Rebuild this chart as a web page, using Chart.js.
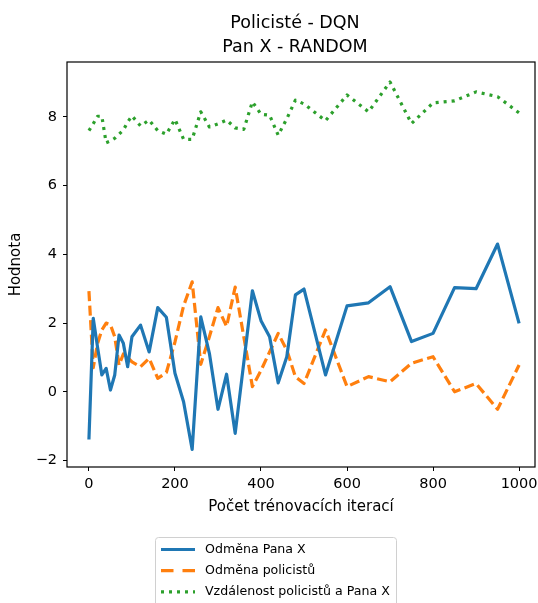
<!DOCTYPE html>
<html>
<head>
<meta charset="utf-8">
<script src="https://cdn.jsdelivr.net/npm/chart.js@4.4.0/dist/chart.umd.min.js"></script>
<style>
  html, body { margin: 0; padding: 0; background: #fff; }
</style>
</head>
<body>
<canvas id="chart" width="538" height="603"></canvas>
<script>
// --- Data ---
const iterations = [0, 10, 20, 30, 40, 50, 60, 70, 80, 90, 100,
  120, 140, 160, 180, 200, 220, 240, 260, 280, 300, 320, 340, 360, 380, 400, 420, 440, 460, 480, 500,
  550, 600, 650, 700, 750, 800, 850, 900, 950, 1000];
const rewardPanX = [-1.39, 2.14, 1.3, 0.49, 0.68, 0.05, 0.49, 1.65, 1.41, 0.73, 1.6,
  1.94, 1.16, 2.45, 2.17, 0.54, -0.29, -1.68, 2.18, 1.12, -0.51, 0.51, -1.21, 0.85, 2.94, 2.07, 1.6, 0.26, 1.02, 2.82, 2.99,
  0.49, 2.5, 2.59, 3.06, 1.46, 1.7, 3.03, 3.0, 4.3, 1.99];
const rewardPolice = [2.93, 0.7, 1.4, 1.8, 2.0, 1.95, 1.6, 0.78, 1.1, 1.0, 0.87,
  0.73, 0.97, 0.39, 0.56, 1.45, 2.5, 3.2, 0.8, 1.6, 2.45, 1.9, 3.05, 1.6, 0.15, 0.62, 1.16, 1.7, 1.21, 0.44, 0.24,
  1.8, 0.15, 0.44, 0.29, 0.83, 1.02, 0.0, 0.24, -0.51, 0.78];
const distance = [7.6, 7.8, 8.02, 8.02, 7.25, 7.3, 7.38, 7.5, 7.62, 7.85, 8.03,
  7.74, 7.91, 7.6, 7.5, 7.93, 7.35, 7.35, 8.15, 7.71, 7.8, 7.91, 7.68, 7.64, 8.44, 8.08, 8.05, 7.47, 7.95, 8.49, 8.38,
  7.89, 8.64, 8.15, 9.02, 7.81, 8.41, 8.47, 8.73, 8.59, 8.12];

const seriesNames = ['Odměna Pana X', 'Odměna policistů', 'Vzdálenost policistů a Pana X'];
const xTicks = [0, 200, 400, 600, 800, 1000];
const yTicks = [-2, 0, 2, 4, 6, 8];
const titleLines = ['Policisté - DQN', 'Pan X - RANDOM'];

const FONT = "'DejaVu Sans', sans-serif";
Chart.defaults.color = '#000';
Chart.defaults.font.family = FONT;

const toPoints = ys => iterations.map((x, i) => ({ x, y: ys[i] }));

// title, full frame and legend box, drawn matplotlib-like
const mplDecor = {
  id: 'mplDecor',
  afterDraw(chart) {
    const { ctx, chartArea: a } = chart;
    ctx.save();
    ctx.setLineDash([]);
    ctx.strokeStyle = '#000';
    ctx.lineWidth = 1.2;
    ctx.strokeRect(a.left, a.top, a.right - a.left, a.bottom - a.top);

    ctx.fillStyle = '#000';
    ctx.font = `17.5px ${FONT}`;
    ctx.textAlign = 'center';
    ctx.textBaseline = 'alphabetic';
    titleLines.forEach((t, i) => ctx.fillText(t, 295, 28 + i * 24));

    // legend
    ctx.beginPath();
    ctx.roundRect(155.5, 537.5, 241, 80, 3);
    ctx.fillStyle = 'rgba(255,255,255,0.8)';
    ctx.fill();
    ctx.strokeStyle = '#d0d0d0';
    ctx.lineWidth = 1;
    ctx.stroke();

    const legendDash = [[], [12.5, 9], [3, 5]];
    ctx.font = `12.6px ${FONT}`;
    ctx.textAlign = 'left';
    ctx.textBaseline = 'middle';
    chart.data.datasets.forEach((ds, i) => {
      const y = 549.5 + i * 21.2;
      ctx.beginPath();
      ctx.setLineDash(legendDash[i]);
      ctx.lineCap = 'butt';
      ctx.strokeStyle = ds.borderColor;
      ctx.lineWidth = ds.borderWidth;
      ctx.moveTo(161, y);
      ctx.lineTo(195, y);
      ctx.stroke();
      ctx.setLineDash([]);
      ctx.fillStyle = '#000';
      ctx.fillText(ds.label, 205, y);
    });
    ctx.restore();
  }
};

new Chart(document.getElementById('chart'), {
  type: 'line',
  data: {
    datasets: [
      { label: seriesNames[0], data: toPoints(rewardPanX), borderColor: '#1f77b4', borderWidth: 3.2 },
      { label: seriesNames[1], data: toPoints(rewardPolice), borderColor: '#ff7f0e', borderWidth: 3.2, borderDash: [10, 4.5] },
      { label: seriesNames[2], data: toPoints(distance), borderColor: '#2ca02c', borderWidth: 3.2, borderDash: [3, 5] }
    ]
  },
  options: {
    responsive: false,
    animation: false,
    devicePixelRatio: 1,
    layout: { padding: { left: 0, top: 62, right: 3, bottom: 86 } },
    elements: {
      point: { radius: 0 },
      line: { tension: 0, borderJoinStyle: 'round', borderCapStyle: 'butt', fill: false }
    },
    plugins: { legend: { display: false }, tooltip: { enabled: false } },
    scales: {
      x: {
        type: 'linear',
        min: -51,
        max: 1037,
        afterBuildTicks: s => { s.ticks = xTicks.map(v => ({ value: v })); },
        afterFit: s => { s.height = 50; s.paddingLeft = 0; s.paddingRight = 0; },
        grid: { drawOnChartArea: false, tickLength: 4, color: '#000', tickWidth: 1 },
        border: { display: false },
        ticks: { font: { size: 14.5 }, padding: 5, maxRotation: 0, callback: v => String(v) },
        title: { display: true, text: 'Počet trénovacích iterací', font: { size: 15 }, padding: { top: 0, bottom: 1 } }
      },
      y: {
        min: -2.19,
        max: 9.6,
        afterBuildTicks: s => { s.ticks = yTicks.map(v => ({ value: v })); },
        afterFit: s => { s.width = 67; s.paddingTop = 0; s.paddingBottom = 0; },
        grid: { drawOnChartArea: false, tickLength: 4, color: '#000', tickWidth: 1 },
        border: { display: false },
        ticks: { font: { size: 14.5 }, padding: 6, callback: v => String(v).replace('-', '\u2212') },
        title: { display: true, text: 'Hodnota', font: { size: 15 }, padding: { top: 7, bottom: 0 } }
      }
    }
  },
  plugins: [mplDecor]
});
</script>
</body>
</html>
